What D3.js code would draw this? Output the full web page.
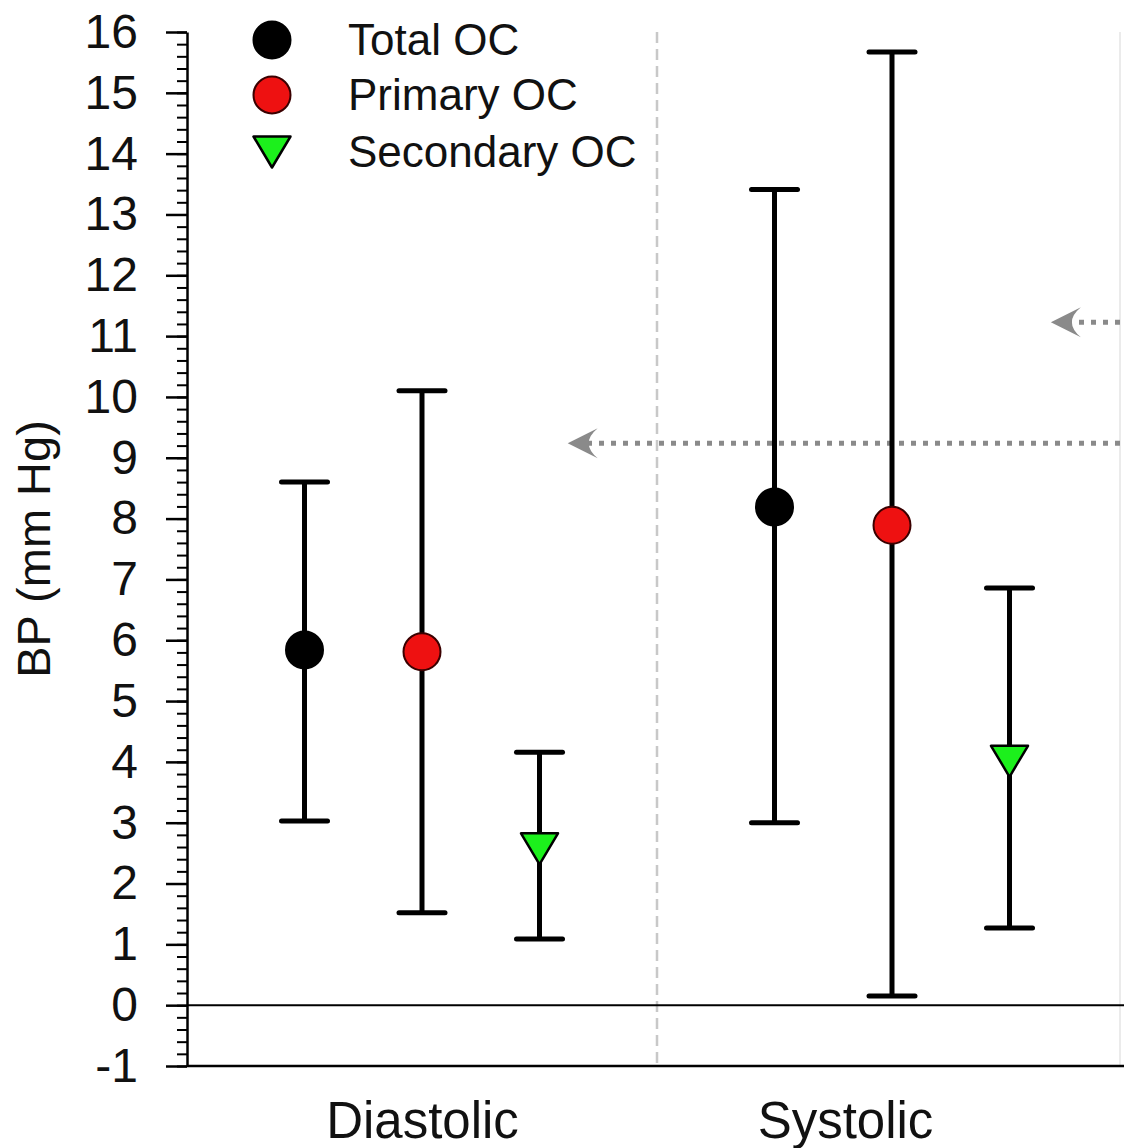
<!DOCTYPE html>
<html>
<head>
<meta charset="utf-8">
<script src="https://cdn.jsdelivr.net/npm/d3@7"></script>
<style>
  body { margin: 0; background: #fff; }
  svg { display: block; font-family: "Liberation Sans", Arial, sans-serif; }
</style>
</head>
<body>
<svg id="chart" width="1124" height="1148"></svg>
<script>
// data (mm Hg)
var categories = ["Diastolic", "Systolic"];
var series = ["Total OC", "Primary OC", "Secondary OC"];
var means = [
    [5.84, 8.19],   // Total OC
    [5.81, 7.89],   // Primary OC
    [2.57, 4.01]    // Secondary OC
];
var lower = [
    [3.03, 3.00],
    [1.52, 0.15],
    [1.09, 1.27]
];
var upper = [
    [8.60, 13.41],
    [10.10, 15.67],
    [4.16, 6.86]
];
var yTicks = d3.range(-1, 17);
// where the category labels sit on the x scale (Systolic label is left of its group)
var labelPos = [0.5, 1.4];
// dotted arrows drawn over the plot: level (mm Hg) and tip position (x units)
var arrowLevels = [9.24, 11.23];
var arrowTips = [0.81, 1.838];

var W = 1124, H = 1148;
var left = 187, frameRight = 1120;
var svg = d3.select('#chart');

var y = d3.scaleLinear().domain([-1, 16]).range([1066, 32]);
var x = d3.scaleLinear().domain([0, 2]).range([left, 1127]);
var offset = [-0.25, 0, 0.25]; // position of each series within a group

svg.append('rect').attr('width', W).attr('height', H).attr('fill', '#fff');

// faint right frame + dashed group divider
svg.append('line')
    .attr('x1', frameRight).attr('x2', frameRight)
    .attr('y1', y(16)).attr('y2', y(-1))
    .attr('stroke', '#ebebeb').attr('stroke-width', 2);
svg.append('line')
    .attr('x1', x(1)).attr('x2', x(1))
    .attr('y1', y(16)).attr('y2', y(-1))
    .attr('stroke', '#c8c8c8').attr('stroke-width', 2.5)
    .attr('stroke-dasharray', '11,6');

// zero line and bottom line
svg.append('line')
    .attr('x1', left).attr('x2', W)
    .attr('y1', y(0)).attr('y2', y(0))
    .attr('stroke', '#000').attr('stroke-width', 2);
svg.append('line')
    .attr('x1', left).attr('x2', W)
    .attr('y1', y(-1)).attr('y2', y(-1))
    .attr('stroke', '#000').attr('stroke-width', 2.5);

// y axis: minor then major ticks
var minor = svg.append('g')
    .attr('transform', 'translate(' + left + ',0)')
    .call(d3.axisLeft(y).tickValues(d3.range(-1, 16.01, 0.2)).tickSize(10).tickSizeOuter(0).tickFormat(''));
minor.selectAll('line').attr('stroke-width', 2);
minor.select('.domain').attr('stroke-width', 2.5);

var major = svg.append('g')
    .attr('transform', 'translate(' + left + ',0)')
    .call(d3.axisLeft(y).tickValues(yTicks).tickSize(21).tickSizeOuter(0).tickPadding(28)
        .tickFormat(function (d) { return String(d); }));
major.select('.domain').remove();
major.selectAll('line').attr('stroke-width', 2.5);
major.selectAll('text')
    .attr('font-size', 48)
    .attr('font-family', '"Liberation Sans", Arial, sans-serif')
    .attr('fill', '#111');

// x axis labels
var xAxis = svg.append('g')
    .attr('transform', 'translate(0,' + y(-1) + ')')
    .call(d3.axisBottom(x).tickValues(labelPos).tickSize(0).tickPadding(36)
        .tickFormat(function (d, i) { return categories[i]; }));
xAxis.select('.domain').remove();
xAxis.selectAll('text')
    .attr('font-size', 51)
    .attr('font-family', '"Liberation Sans", Arial, sans-serif')
    .attr('fill', '#111');

// y title
svg.append('text')
    .attr('transform', 'translate(50,549) rotate(-90)')
    .attr('text-anchor', 'middle')
    .attr('font-size', 47)
    .attr('fill', '#111')
    .text('BP (mm Hg)');

// arrows
var arrowHead = 'M0,0L30,-15Q12,0 30,15Z';
arrowLevels.forEach(function (lv, i) {
    var tx = x(arrowTips[i]);
    svg.append('line')
        .attr('x1', frameRight).attr('x2', tx + 20)
        .attr('y1', y(lv)).attr('y2', y(lv))
        .attr('stroke', '#8a8a8a').attr('stroke-width', 5)
        .attr('stroke-dasharray', '5,7');
    svg.append('path')
        .attr('d', arrowHead)
        .attr('transform', 'translate(' + tx + ',' + y(lv) + ')')
        .attr('fill', '#8a8a8a');
});

// error bars
var capW = 46;
var bars = [];
series.forEach(function (s, si) {
    categories.forEach(function (c, ci) {
        bars.push({ s: si, c: ci, m: means[si][ci], lo: lower[si][ci], hi: upper[si][ci] });
    });
});
var g = svg.append('g');
bars.forEach(function (b) {
    var cx = x(b.c + 0.5 + offset[b.s]);
    g.append('line')
        .attr('x1', cx).attr('x2', cx)
        .attr('y1', y(b.lo)).attr('y2', y(b.hi))
        .attr('stroke', '#000').attr('stroke-width', 5);
    [b.lo, b.hi].forEach(function (v) {
        g.append('line')
            .attr('x1', cx - capW / 2).attr('x2', cx + capW / 2)
            .attr('y1', y(v)).attr('y2', y(v))
            .attr('stroke', '#000').attr('stroke-width', 5)
            .attr('stroke-linecap', 'round');
    });
});

// markers
function drawMarker(sel, si, px, py) {
    if (si === 2) {
        sel.append('path')
            .attr('d', 'M-18.5,-15.5L18.5,-15.5L0,15.5Z')
            .attr('transform', 'translate(' + px + ',' + py + ')')
            .attr('fill', '#1cf01c').attr('stroke', '#000').attr('stroke-width', 2.5)
            .attr('stroke-linejoin', 'round');
    } else {
        sel.append('circle')
            .attr('cx', px).attr('cy', py).attr('r', 18.5)
            .attr('fill', si === 0 ? '#000' : '#ee1111')
            .attr('stroke', si === 0 ? '#000' : '#3a0000')
            .attr('stroke-width', 2);
    }
}
bars.forEach(function (b) {
    drawMarker(g, b.s, x(b.c + 0.5 + offset[b.s]), y(b.m));
});

// legend
var legendY = [40, 95, 152];
var legend = svg.append('g');
series.forEach(function (s, i) {
    drawMarker(legend, i, 272, legendY[i]);
    legend.append('text')
        .attr('x', 348).attr('y', legendY[i] + 15)
        .attr('font-size', 44)
        .attr('fill', '#111')
        .text(s);
});
</script>
</body>
</html>
